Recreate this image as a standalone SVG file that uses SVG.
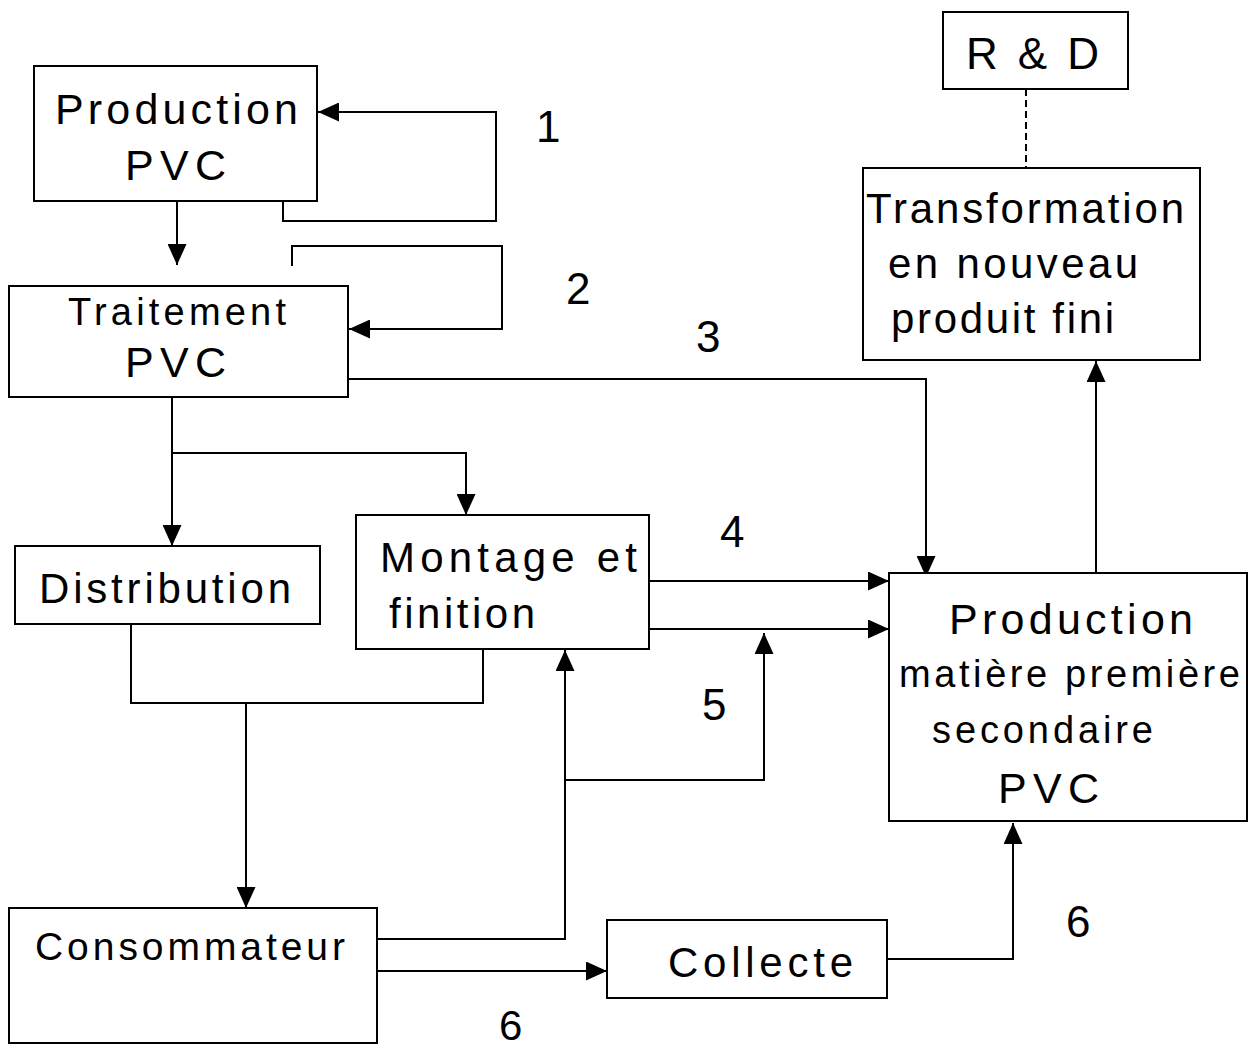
<svg xmlns="http://www.w3.org/2000/svg" width="1248" height="1051" viewBox="0 0 1248 1051">
<style>
.box{fill:#fff;stroke:#000;stroke-width:2}
.t{font-family:"Liberation Sans",Arial,sans-serif;fill:#000}
.c{fill:none;stroke:#000;stroke-width:2}
</style>
<defs>
<marker id="ah" markerUnits="userSpaceOnUse" markerWidth="21" markerHeight="19" refX="21" refY="9.5" orient="auto">
<path d="M0,0 L21,9.5 L0,19 z" fill="#000"/>
</marker>
</defs>
<rect width="1248" height="1051" fill="#fff"/>
<g id="connectors">
<path class="c" d="M177,201 V265" marker-end="url(#ah)"/>
<path class="c" d="M283,201 V221 H496 V112 H318" marker-end="url(#ah)"/>
<path class="c" d="M292,266 V246 H502 V329 H349" marker-end="url(#ah)"/>
<path class="c" d="M348,379 H926 V577" marker-end="url(#ah)"/>
<path class="c" d="M172,397 V546" marker-end="url(#ah)"/>
<path class="c" d="M172,453 H466 V515" marker-end="url(#ah)"/>
<path class="c" d="M131,624 V703 H483 V649"/>
<path class="c" d="M246,703 V908" marker-end="url(#ah)"/>
<path class="c" d="M645,581 H889" marker-end="url(#ah)"/>
<path class="c" d="M648,629 H889" marker-end="url(#ah)"/>
<path class="c" d="M375,939 H565 V650" marker-end="url(#ah)"/>
<path class="c" d="M565,780 H764 V633" marker-end="url(#ah)"/>
<path class="c" d="M373,971 H607" marker-end="url(#ah)"/>
<path class="c" d="M884,959 H1013 V823" marker-end="url(#ah)"/>
<path class="c" d="M1096,575 V361" marker-end="url(#ah)"/>
<path class="c" d="M1026,89 V168" stroke-dasharray="7,4"/>
</g>
<g id="labels">
<text class="t" x="536" y="142" font-size="44">1</text>
<text class="t" x="566" y="304" font-size="44">2</text>
<text class="t" x="696" y="352" font-size="44">3</text>
<text class="t" x="720" y="547" font-size="44">4</text>
<text class="t" x="702" y="720" font-size="44">5</text>
<text class="t" x="1066" y="937" font-size="44">6</text>
<text class="t" x="499" y="1040" font-size="42">6</text>
</g>
<g id="production-pvc">
<rect class="box" x="34" y="66" width="283" height="135"/>
<text class="t" x="55" y="124" font-size="43" textLength="243" lengthAdjust="spacing">Production</text>
<text class="t" x="125" y="180" font-size="43" textLength="101" lengthAdjust="spacing">PVC</text>
</g>
<g id="traitement-pvc">
<rect class="box" x="9" y="286" width="339" height="111"/>
<text class="t" x="68" y="325" font-size="38" textLength="218" lengthAdjust="spacing">Traitement</text>
<text class="t" x="125" y="377" font-size="43" textLength="101" lengthAdjust="spacing">PVC</text>
</g>
<g id="distribution">
<rect class="box" x="15" y="546" width="305" height="78"/>
<text class="t" x="39" y="603" font-size="42" textLength="252" lengthAdjust="spacing">Distribution</text>
</g>
<g id="montage">
<rect class="box" x="356" y="515" width="293" height="134"/>
<text class="t" x="380" y="572" font-size="42" textLength="257" lengthAdjust="spacing">Montage et</text>
<text class="t" x="389" y="628" font-size="42" textLength="146" lengthAdjust="spacing">finition</text>
</g>
<g id="consommateur">
<rect class="box" x="9" y="908" width="368" height="135"/>
<text class="t" x="35" y="960" font-size="39" textLength="310" lengthAdjust="spacing">Consommateur</text>
</g>
<g id="collecte">
<rect class="box" x="607" y="920" width="280" height="78"/>
<text class="t" x="668" y="977" font-size="42" textLength="185" lengthAdjust="spacing">Collecte</text>
</g>
<g id="production-mps">
<rect class="box" x="889" y="573" width="358" height="248"/>
<text class="t" x="949" y="634" font-size="43" textLength="244" lengthAdjust="spacing">Production</text>
<text class="t" x="899" y="687" font-size="38" textLength="341" lengthAdjust="spacing">matière première</text>
<text class="t" x="932" y="743" font-size="38" textLength="221" lengthAdjust="spacing">secondaire</text>
<text class="t" x="998" y="803" font-size="43" textLength="101" lengthAdjust="spacing">PVC</text>
</g>
<g id="transformation">
<rect class="box" x="863" y="168" width="337" height="192"/>
<text class="t" x="866" y="223" font-size="42" textLength="318" lengthAdjust="spacing">Transformation</text>
<text class="t" x="888" y="278" font-size="42" textLength="250" lengthAdjust="spacing">en nouveau</text>
<text class="t" x="891" y="333" font-size="42" textLength="223" lengthAdjust="spacing">produit fini</text>
</g>
<g id="rd">
<rect class="box" x="943" y="12" width="185" height="77"/>
<text class="t" x="966" y="69" font-size="44" textLength="133" lengthAdjust="spacing">R &amp; D</text>
</g>
</svg>
